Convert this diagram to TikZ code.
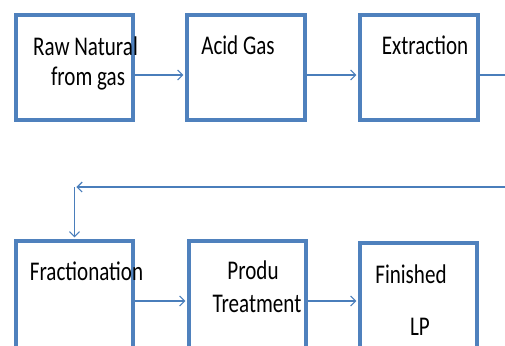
\documentclass[tikz,border=0pt]{standalone}
\usepackage{fontspec}
\setmainfont{Carlito}[FakeStretch=0.78]
\usetikzlibrary{arrows.meta}
\definecolor{boxblue}{HTML}{4F81BD}
\definecolor{lineblue}{HTML}{4A7EBB}
\tikzset{
  box/.style={draw=boxblue, line width=3.5pt, fill=white, rectangle, inner sep=0pt},
  lbl/.style={anchor=base, inner sep=0pt, font=\fontsize{27}{30}\selectfont, text=black},
  arr/.style={draw=lineblue, line width=1.4pt, -{Straight Barb[length=5pt,width=10pt,line width=1.2pt]}, shorten >=1.8pt},
  ln/.style={draw=lineblue, line width=1.4pt}
}
\begin{document}
\begin{tikzpicture}[x=1pt,y=-1pt]
\useasboundingbox (0,0) rectangle (505,345);
% boxes
\node[box, minimum width=117pt, minimum height=105pt] (b1) at (74.5,67.5) {};
\node[box, minimum width=118pt, minimum height=105pt] (b2) at (246,67.5) {};
\node[box, minimum width=118pt, minimum height=105pt] (b3) at (419,67.5) {};
\node[box, minimum width=117pt, minimum height=112pt] (b4) at (74.5,297) {};
\node[box, minimum width=117pt, minimum height=112pt] (b5) at (247.5,297) {};
\node[box, minimum width=117pt, minimum height=110pt] (b6) at (418.5,298) {};
% helper coordinates
\coordinate (r1) at (0,75);
\coordinate (r2) at (0,301);
\coordinate (re) at (505,75);
\coordinate (e) at (505,187);
\coordinate (c) at (74.5,187);
% connectors
\draw[arr] (b1.east |- r1) -- (b2.west |- r1);
\draw[arr] (b2.east |- r1) -- (b3.west |- r1);
\draw[ln] (b3.east |- r1) -- (re);
\draw[arr] (e) -- (c);
\draw[arr] (c) -- (b4.north);
\draw[arr] (b4.east |- r2) -- (b5.west |- r2);
\draw[arr] (b5.east |- r2) -- (b6.west |- r2);
% labels
\node[lbl] (t1a) at (85.5,56) {Raw Natural};
\node[lbl] (t1b) at (88,85) {from gas};
\node[lbl] (t2) at (238,55) {Acid Gas};
\node[lbl] (t3) at (425,55) {Extraction};
\node[lbl] (t4) at (86.5,280) {Fractionation};
\node[lbl] (t5a) at (253,279) {Produ};
\node[lbl] (t5b) at (257,312) {Treatment};
\node[lbl] (t6a) at (411,283) {Finished};
\node[lbl] (t6b) at (420,335) {LP};
\end{tikzpicture}
\end{document}
